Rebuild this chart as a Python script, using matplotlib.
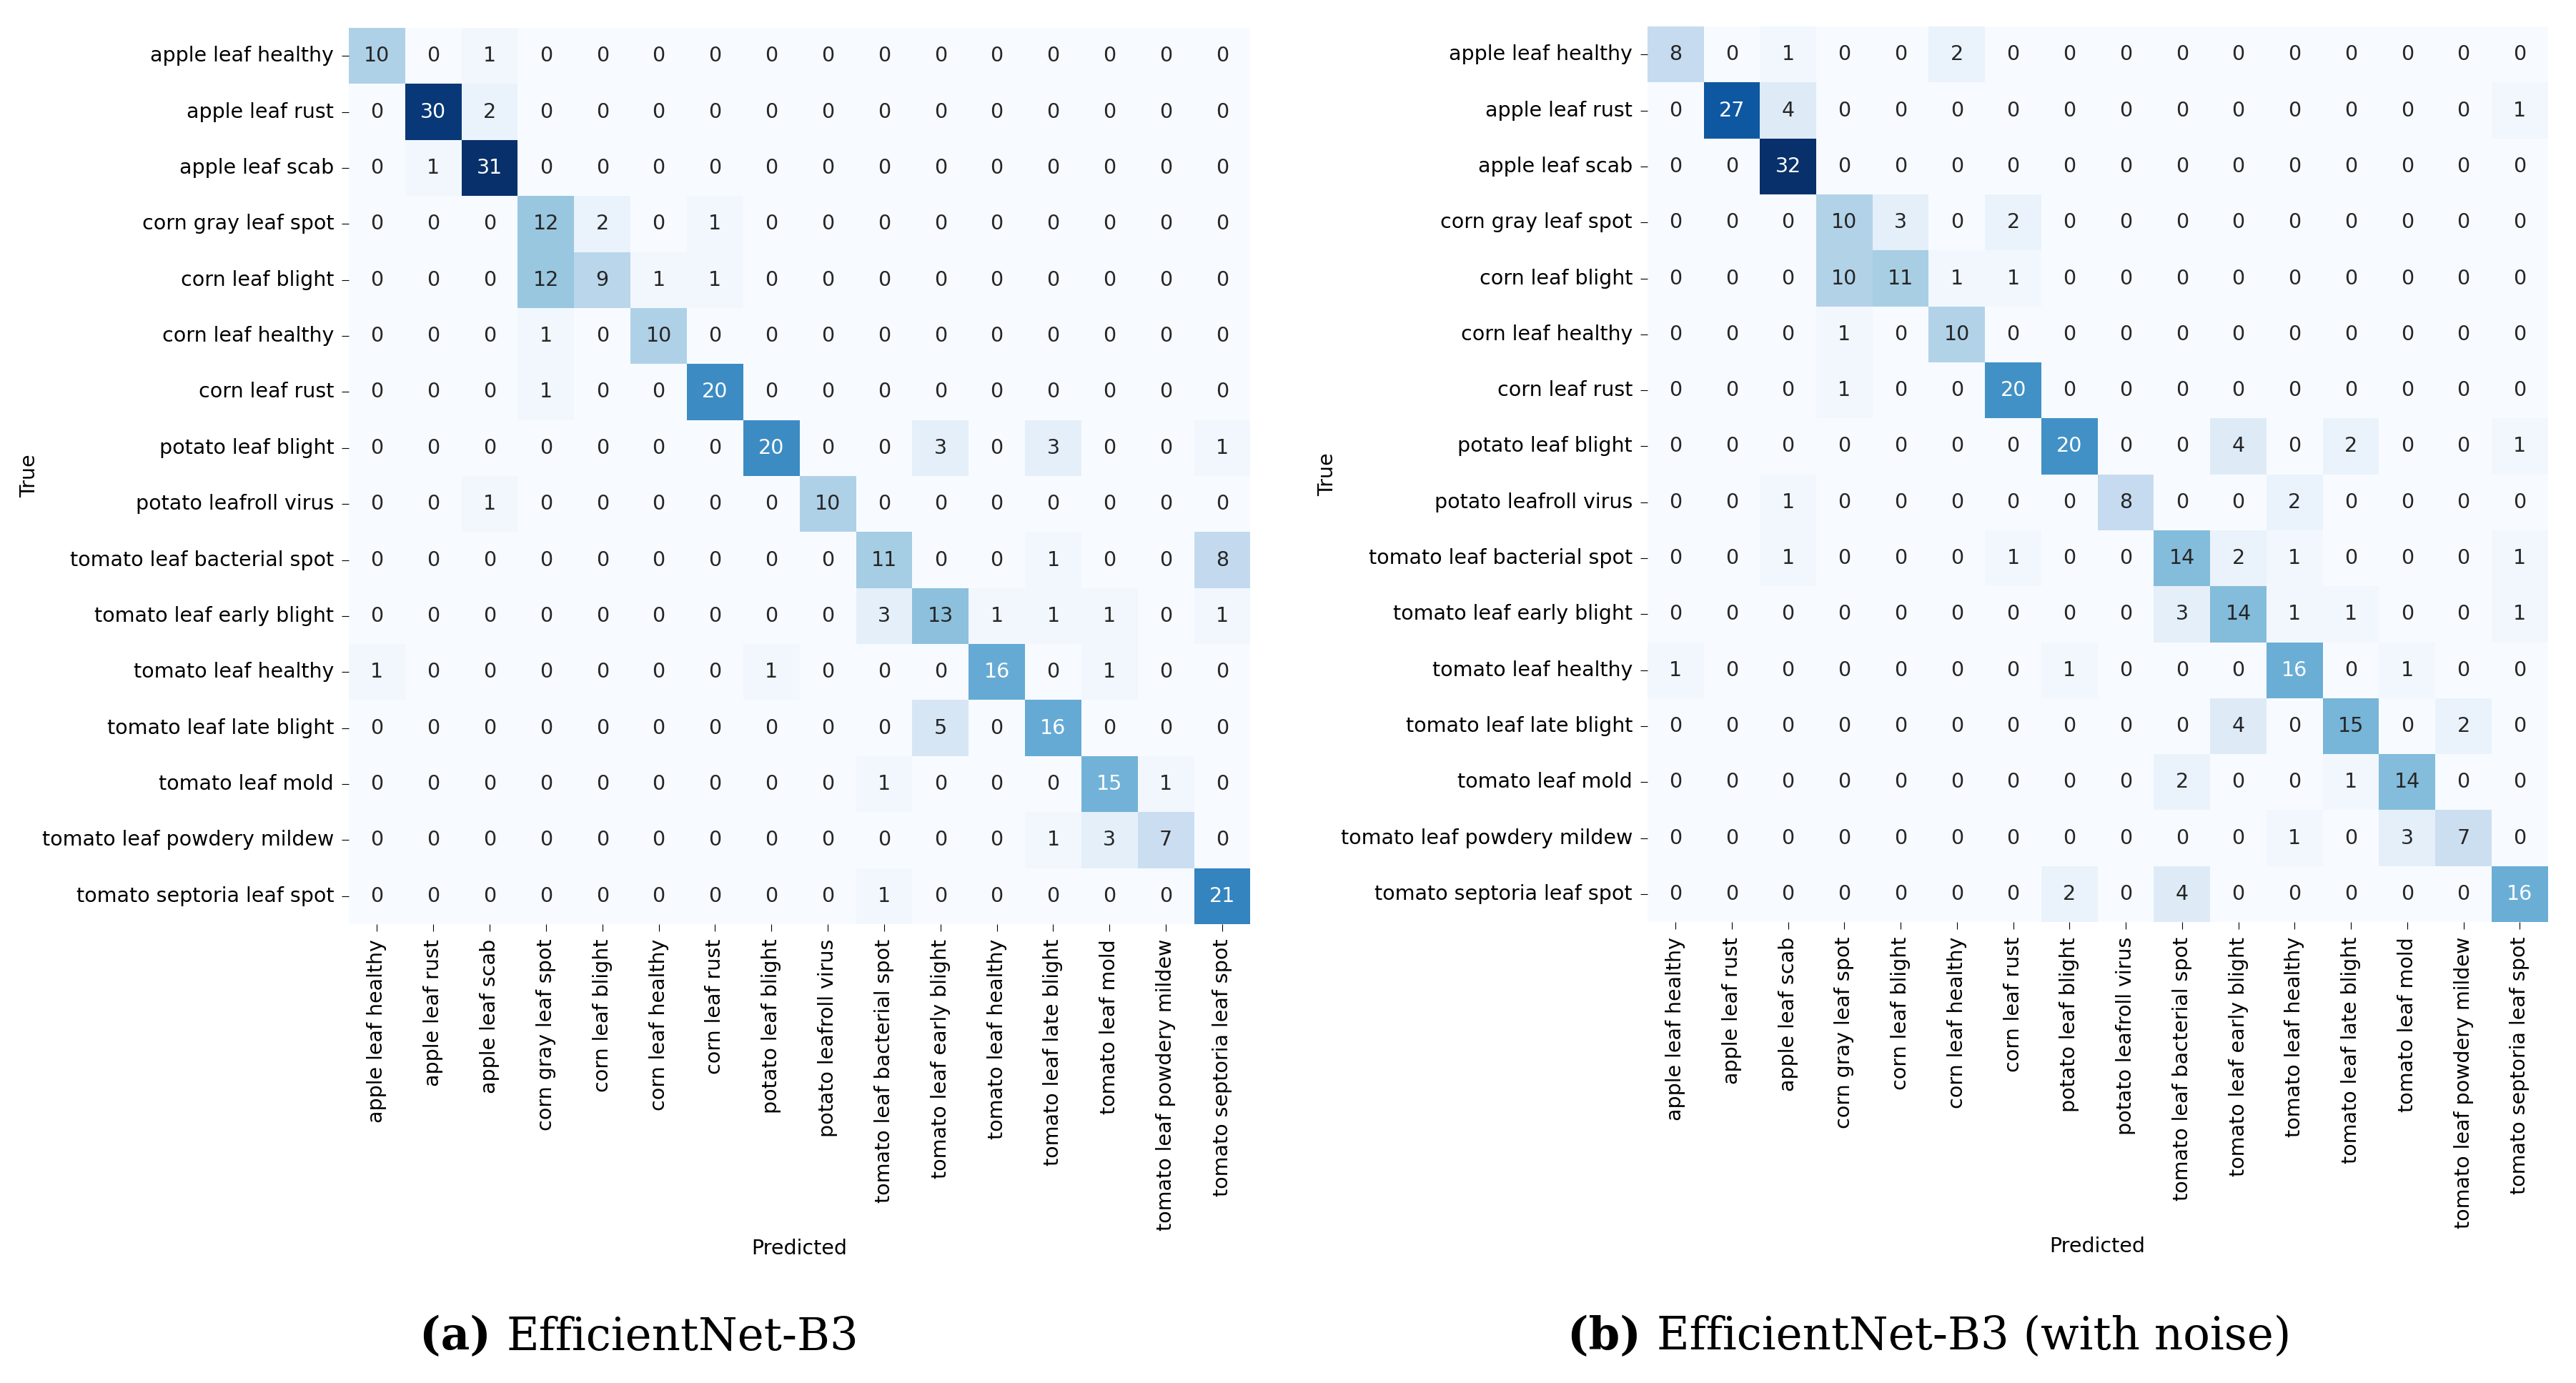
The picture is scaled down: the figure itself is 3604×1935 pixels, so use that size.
import numpy as np
import matplotlib
matplotlib.use("Agg")
from matplotlib import pyplot as plt
import seaborn as sns

# class names (same for rows and columns)
classes = ['apple leaf healthy', 'apple leaf rust', 'apple leaf scab',
           'corn gray leaf spot', 'corn leaf blight', 'corn leaf healthy',
           'corn leaf rust', 'potato leaf blight', 'potato leafroll virus',
           'tomato leaf bacterial spot', 'tomato leaf early blight',
           'tomato leaf healthy', 'tomato leaf late blight', 'tomato leaf mold',
           'tomato leaf powdery mildew', 'tomato septoria leaf spot']

# (a) EfficientNet-B3
cm_clean = [
    [10, 0, 1, 0, 0, 0, 0, 0, 0, 0, 0, 0, 0, 0, 0, 0],
    [0, 30, 2, 0, 0, 0, 0, 0, 0, 0, 0, 0, 0, 0, 0, 0],
    [0, 1, 31, 0, 0, 0, 0, 0, 0, 0, 0, 0, 0, 0, 0, 0],
    [0, 0, 0, 12, 2, 0, 1, 0, 0, 0, 0, 0, 0, 0, 0, 0],
    [0, 0, 0, 12, 9, 1, 1, 0, 0, 0, 0, 0, 0, 0, 0, 0],
    [0, 0, 0, 1, 0, 10, 0, 0, 0, 0, 0, 0, 0, 0, 0, 0],
    [0, 0, 0, 1, 0, 0, 20, 0, 0, 0, 0, 0, 0, 0, 0, 0],
    [0, 0, 0, 0, 0, 0, 0, 20, 0, 0, 3, 0, 3, 0, 0, 1],
    [0, 0, 1, 0, 0, 0, 0, 0, 10, 0, 0, 0, 0, 0, 0, 0],
    [0, 0, 0, 0, 0, 0, 0, 0, 0, 11, 0, 0, 1, 0, 0, 8],
    [0, 0, 0, 0, 0, 0, 0, 0, 0, 3, 13, 1, 1, 1, 0, 1],
    [1, 0, 0, 0, 0, 0, 0, 1, 0, 0, 0, 16, 0, 1, 0, 0],
    [0, 0, 0, 0, 0, 0, 0, 0, 0, 0, 5, 0, 16, 0, 0, 0],
    [0, 0, 0, 0, 0, 0, 0, 0, 0, 1, 0, 0, 0, 15, 1, 0],
    [0, 0, 0, 0, 0, 0, 0, 0, 0, 0, 0, 0, 1, 3, 7, 0],
    [0, 0, 0, 0, 0, 0, 0, 0, 0, 1, 0, 0, 0, 0, 0, 21],
]

# (b) EfficientNet-B3 (with noise)
cm_noise = [
    [8, 0, 1, 0, 0, 2, 0, 0, 0, 0, 0, 0, 0, 0, 0, 0],
    [0, 27, 4, 0, 0, 0, 0, 0, 0, 0, 0, 0, 0, 0, 0, 1],
    [0, 0, 32, 0, 0, 0, 0, 0, 0, 0, 0, 0, 0, 0, 0, 0],
    [0, 0, 0, 10, 3, 0, 2, 0, 0, 0, 0, 0, 0, 0, 0, 0],
    [0, 0, 0, 10, 11, 1, 1, 0, 0, 0, 0, 0, 0, 0, 0, 0],
    [0, 0, 0, 1, 0, 10, 0, 0, 0, 0, 0, 0, 0, 0, 0, 0],
    [0, 0, 0, 1, 0, 0, 20, 0, 0, 0, 0, 0, 0, 0, 0, 0],
    [0, 0, 0, 0, 0, 0, 0, 20, 0, 0, 4, 0, 2, 0, 0, 1],
    [0, 0, 1, 0, 0, 0, 0, 0, 8, 0, 0, 2, 0, 0, 0, 0],
    [0, 0, 1, 0, 0, 0, 1, 0, 0, 14, 2, 1, 0, 0, 0, 1],
    [0, 0, 0, 0, 0, 0, 0, 0, 0, 3, 14, 1, 1, 0, 0, 1],
    [1, 0, 0, 0, 0, 0, 0, 1, 0, 0, 0, 16, 0, 1, 0, 0],
    [0, 0, 0, 0, 0, 0, 0, 0, 0, 0, 4, 0, 15, 0, 2, 0],
    [0, 0, 0, 0, 0, 0, 0, 0, 0, 2, 0, 0, 1, 14, 0, 0],
    [0, 0, 0, 0, 0, 0, 0, 0, 0, 0, 0, 1, 0, 3, 7, 0],
    [0, 0, 0, 0, 0, 0, 0, 2, 0, 4, 0, 0, 0, 0, 0, 16],
]

captions = [('(a)', 'EfficientNet-B3'), ('(b)', 'EfficientNet-B3 (with noise)')]

fig = plt.figure(figsize=(36.04, 19.35), dpi=100)
renderer = fig.canvas.get_renderer()

# axes positions in figure fractions
axes_pos = [[0.1354, 0.3318, 0.3500, 0.6480],
            [0.6395, 0.3333, 0.3496, 0.6475]]
caption_x = [0.248, 0.749]

fs = 20.5
for cm, pos, cap, cx in zip([cm_clean, cm_noise], axes_pos, captions, caption_x):
    ax = fig.add_axes(pos)
    sns.heatmap(np.array(cm), annot=True, fmt='d', cmap='Blues', cbar=False,
                xticklabels=classes, yticklabels=classes, ax=ax,
                annot_kws={'fontsize': fs})
    ax.set_xlabel('Predicted', fontsize=fs, labelpad=8)
    ax.set_ylabel('True', fontsize=fs, labelpad=3)
    ax.tick_params(axis='both', labelsize=fs, length=7, pad=8)
    plt.setp(ax.get_xticklabels(), rotation=90)
    plt.setp(ax.get_yticklabels(), rotation=0)

    # caption under each matrix: bold tag + plain name, centred together
    t1 = fig.text(0, 0.024, cap[0] + ' ', ha='left', va='baseline',
                  fontsize=45, family='DejaVu Serif', weight='bold')
    t2 = fig.text(0, 0.024, cap[1], ha='left', va='baseline',
                  fontsize=45, family='DejaVu Serif')
    w1 = t1.get_window_extent(renderer).width / fig.bbox.width
    w2 = t2.get_window_extent(renderer).width / fig.bbox.width
    x0 = cx - (w1 + w2) / 2
    t1.set_x(x0)
    t2.set_x(x0 + w1)

plt.savefig('out.png', dpi=100)
